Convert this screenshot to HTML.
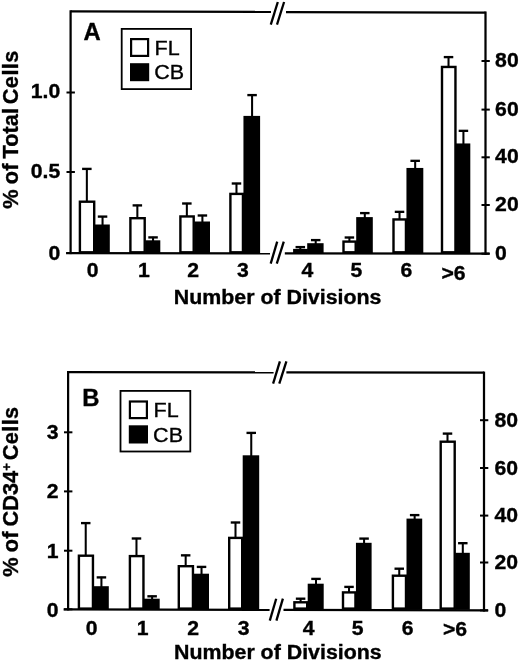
<!DOCTYPE html>
<html><head><meta charset="utf-8"><title>Figure</title>
<style>html,body{margin:0;padding:0;background:#fff}svg{display:block}text{font-family:"Liberation Sans",Arial,Helvetica,sans-serif;fill:#000;stroke:#000;stroke-width:0.35px}</style>
</head><body>
<svg width="520" height="662" viewBox="0 0 520 662">
<rect width="520" height="662" fill="#fff"/>
<line x1="86.85" y1="168.3" x2="86.85" y2="202" stroke="#000" stroke-width="2.05"/>
<line x1="82.1" y1="168.9" x2="91.6" y2="168.9" stroke="#000" stroke-width="2.35"/>
<line x1="102.55" y1="216.0" x2="102.55" y2="225.8" stroke="#000" stroke-width="2.05"/>
<line x1="97.8" y1="216.6" x2="107.3" y2="216.6" stroke="#000" stroke-width="2.35"/>
<rect x="79.9" y="201.7" width="14.3" height="50.6" fill="#fff" stroke="#000" stroke-width="2.4"/>
<rect x="94.7" y="224.5" width="15.1" height="29.0" fill="#000"/>
<line x1="137.35" y1="204.8" x2="137.35" y2="218.5" stroke="#000" stroke-width="2.05"/>
<line x1="132.6" y1="205.4" x2="142.1" y2="205.4" stroke="#000" stroke-width="2.35"/>
<line x1="153.05" y1="236.8" x2="153.05" y2="241.6" stroke="#000" stroke-width="2.05"/>
<line x1="148.3" y1="237.4" x2="157.8" y2="237.4" stroke="#000" stroke-width="2.35"/>
<rect x="130.4" y="218.2" width="14.3" height="34.1" fill="#fff" stroke="#000" stroke-width="2.4"/>
<rect x="145.2" y="240.3" width="15.1" height="13.2" fill="#000"/>
<line x1="186.85" y1="202.9" x2="186.85" y2="216.75" stroke="#000" stroke-width="2.05"/>
<line x1="182.1" y1="203.5" x2="191.6" y2="203.5" stroke="#000" stroke-width="2.35"/>
<line x1="202.4" y1="214.9" x2="202.4" y2="222.8" stroke="#000" stroke-width="2.05"/>
<line x1="197.65" y1="215.5" x2="207.15" y2="215.5" stroke="#000" stroke-width="2.35"/>
<rect x="180.4" y="216.45" width="13.3" height="35.85" fill="#fff" stroke="#000" stroke-width="2.4"/>
<rect x="194.2" y="221.5" width="15.8" height="32.0" fill="#000"/>
<line x1="236.475" y1="182.9" x2="236.475" y2="194.2" stroke="#000" stroke-width="2.05"/>
<line x1="231.725" y1="183.5" x2="241.225" y2="183.5" stroke="#000" stroke-width="2.35"/>
<line x1="252.08" y1="94.5" x2="252.08" y2="117.2" stroke="#000" stroke-width="2.05"/>
<line x1="247.33" y1="95.1" x2="256.83" y2="95.1" stroke="#000" stroke-width="2.35"/>
<rect x="230.4" y="193.9" width="12.55" height="58.4" fill="#fff" stroke="#000" stroke-width="2.4"/>
<rect x="243.45" y="115.9" width="16.65" height="137.6" fill="#000"/>
<line x1="300.3" y1="246.5" x2="300.3" y2="250.4" stroke="#000" stroke-width="2.05"/>
<line x1="295.55" y1="247.1" x2="305.05" y2="247.1" stroke="#000" stroke-width="2.35"/>
<line x1="315.7" y1="239.5" x2="315.7" y2="244.5" stroke="#000" stroke-width="2.05"/>
<line x1="310.95" y1="240.1" x2="320.45" y2="240.1" stroke="#000" stroke-width="2.35"/>
<rect x="294.3" y="250.1" width="12.4" height="2.2" fill="#fff" stroke="#000" stroke-width="2.4"/>
<rect x="307.2" y="243.2" width="16.4" height="10.3" fill="#000"/>
<line x1="349.4" y1="236.9" x2="349.4" y2="241.9" stroke="#000" stroke-width="2.05"/>
<line x1="344.65" y1="237.5" x2="354.15" y2="237.5" stroke="#000" stroke-width="2.35"/>
<line x1="364.8" y1="212.5" x2="364.8" y2="218.4" stroke="#000" stroke-width="2.05"/>
<line x1="360.05" y1="213.1" x2="369.55" y2="213.1" stroke="#000" stroke-width="2.35"/>
<rect x="343.5" y="241.6" width="12.2" height="10.7" fill="#fff" stroke="#000" stroke-width="2.4"/>
<rect x="356.2" y="217.1" width="16.6" height="36.4" fill="#000"/>
<line x1="399.525" y1="211.25" x2="399.525" y2="219.75" stroke="#000" stroke-width="2.05"/>
<line x1="394.775" y1="211.85" x2="404.275" y2="211.85" stroke="#000" stroke-width="2.35"/>
<line x1="415.175" y1="160.25" x2="415.175" y2="169.25" stroke="#000" stroke-width="2.05"/>
<line x1="410.425" y1="160.85" x2="419.925" y2="160.85" stroke="#000" stroke-width="2.35"/>
<rect x="393.5" y="219.45" width="12.45" height="32.85" fill="#fff" stroke="#000" stroke-width="2.4"/>
<rect x="406.45" y="167.95" width="16.85" height="85.55" fill="#000"/>
<line x1="448.525" y1="56.5" x2="448.525" y2="67.25" stroke="#000" stroke-width="2.05"/>
<line x1="443.775" y1="57.1" x2="453.275" y2="57.1" stroke="#000" stroke-width="2.35"/>
<line x1="463.425" y1="130.25" x2="463.425" y2="144.75" stroke="#000" stroke-width="2.05"/>
<line x1="458.675" y1="130.85" x2="468.175" y2="130.85" stroke="#000" stroke-width="2.35"/>
<rect x="442.0" y="66.95" width="13.45" height="185.35" fill="#fff" stroke="#000" stroke-width="2.4"/>
<rect x="455.95" y="143.45" width="14.35" height="110.05" fill="#000"/>
<line x1="70.6" y1="10.275" x2="70.6" y2="254.125" stroke="#000" stroke-width="2.25"/>
<line x1="485.5" y1="11.475" x2="485.5" y2="254.825" stroke="#000" stroke-width="2.25"/>
<line x1="70.6" y1="11.4" x2="271" y2="11.98" stroke="#000" stroke-width="2.25"/>
<line x1="286" y1="12.02" x2="485.5" y2="12.6" stroke="#000" stroke-width="2.25"/>
<line x1="66.1" y1="253.0" x2="270" y2="253.315" stroke="#000" stroke-width="2.25"/>
<line x1="284.8" y1="253.35" x2="489.5" y2="253.7" stroke="#000" stroke-width="2.25"/>
<line x1="270.8" y1="24.7" x2="277.8" y2="2.0" stroke="#000" stroke-width="2.3"/>
<line x1="277.0" y1="24.7" x2="284.1" y2="2.0" stroke="#000" stroke-width="2.3"/>
<line x1="270.7" y1="263.6" x2="277.2" y2="241.7" stroke="#000" stroke-width="2.3"/>
<line x1="276.8" y1="263.6" x2="283.8" y2="241.7" stroke="#000" stroke-width="2.3"/>
<line x1="66.5" y1="92.5" x2="74.9" y2="92.5" stroke="#000" stroke-width="2.0"/>
<text transform="translate(60.2,98.4) scale(1.06,1)" font-size="20" font-weight="bold" text-anchor="end">1.0</text>
<line x1="66.5" y1="172" x2="74.9" y2="172" stroke="#000" stroke-width="2.0"/>
<text transform="translate(60.2,177.9) scale(1.06,1)" font-size="20" font-weight="bold" text-anchor="end">0.5</text>
<line x1="66.5" y1="253.0" x2="74.9" y2="253.0" stroke="#000" stroke-width="2.0"/>
<text transform="translate(60.2,260.0) scale(1.06,1)" font-size="20" font-weight="bold" text-anchor="end">0</text>
<line x1="481.5" y1="61" x2="489.8" y2="61" stroke="#000" stroke-width="2.0"/>
<text transform="translate(495.1,67.1) scale(1.06,1)" font-size="20" font-weight="bold" text-anchor="start">80</text>
<line x1="481.5" y1="109.6" x2="489.8" y2="109.6" stroke="#000" stroke-width="2.0"/>
<text transform="translate(495.1,115.7) scale(1.06,1)" font-size="20" font-weight="bold" text-anchor="start">60</text>
<line x1="481.5" y1="157.3" x2="489.8" y2="157.3" stroke="#000" stroke-width="2.0"/>
<text transform="translate(495.1,163.4) scale(1.06,1)" font-size="20" font-weight="bold" text-anchor="start">40</text>
<line x1="481.5" y1="205" x2="489.8" y2="205" stroke="#000" stroke-width="2.0"/>
<text transform="translate(495.1,211.1) scale(1.06,1)" font-size="20" font-weight="bold" text-anchor="start">20</text>
<line x1="481.5" y1="253.7" x2="489.8" y2="253.7" stroke="#000" stroke-width="2.0"/>
<text transform="translate(495.1,259.8) scale(1.06,1)" font-size="20" font-weight="bold" text-anchor="start">0</text>
<text transform="translate(92.6,276.8) scale(1.06,1)" font-size="20" font-weight="bold" text-anchor="middle">0</text>
<text transform="translate(143.8,276.8) scale(1.06,1)" font-size="20" font-weight="bold" text-anchor="middle">1</text>
<text transform="translate(193.1,276.8) scale(1.06,1)" font-size="20" font-weight="bold" text-anchor="middle">2</text>
<text transform="translate(243.0,276.8) scale(1.06,1)" font-size="20" font-weight="bold" text-anchor="middle">3</text>
<text transform="translate(307.3,276.8) scale(1.06,1)" font-size="20" font-weight="bold" text-anchor="middle">4</text>
<text transform="translate(356.3,276.8) scale(1.06,1)" font-size="20" font-weight="bold" text-anchor="middle">5</text>
<text transform="translate(406.5,276.8) scale(1.06,1)" font-size="20" font-weight="bold" text-anchor="middle">6</text>
<text transform="translate(453.5,279.8) scale(1.06,1)" font-size="20" font-weight="bold" text-anchor="middle">&gt;6</text>
<text transform="translate(173.8,303.75) scale(1.068,1)" font-size="20" font-weight="bold" text-anchor="start">Number of Divisions</text>
<text transform="translate(18.2,208.7) rotate(-90) scale(1.012,1)" font-size="21.5" font-weight="bold" text-anchor="start" word-spacing="-0.8">% of Total<tspan dx="-1.9" letter-spacing="0.45"> Cells</tspan></text>
<text transform="translate(83.5,40) scale(0.97,1)" font-size="24.6" font-weight="bold" text-anchor="start">A</text>
<rect x="121.7" y="28.9" width="69.4" height="60.2" fill="#fff" stroke="#000" stroke-width="1.8"/>
<rect x="131.1" y="39.1" width="17" height="16.8" fill="#fff" stroke="#000" stroke-width="2.2"/>
<rect x="130" y="63.2" width="19.2" height="18.0" fill="#000"/>
<text transform="translate(154.5,55) scale(1.05,1)" font-size="20.5" font-weight="normal" text-anchor="start">FL</text>
<text transform="translate(154.2,79.3) scale(1.05,1)" font-size="20.5" font-weight="normal" text-anchor="start">CB</text>
<line x1="85.725" y1="522.5" x2="85.725" y2="556" stroke="#000" stroke-width="2.05"/>
<line x1="80.975" y1="523.1" x2="90.475" y2="523.1" stroke="#000" stroke-width="2.35"/>
<line x1="101.425" y1="576.8" x2="101.425" y2="587.5" stroke="#000" stroke-width="2.05"/>
<line x1="96.675" y1="577.4" x2="106.175" y2="577.4" stroke="#000" stroke-width="2.35"/>
<rect x="78.9" y="555.7" width="14.05" height="52.9" fill="#fff" stroke="#000" stroke-width="2.4"/>
<rect x="93.45" y="586.2" width="15.35" height="23.6" fill="#000"/>
<line x1="136.475" y1="537.9" x2="136.475" y2="556.4" stroke="#000" stroke-width="2.05"/>
<line x1="131.725" y1="538.5" x2="141.225" y2="538.5" stroke="#000" stroke-width="2.35"/>
<line x1="152.125" y1="595.7" x2="152.125" y2="600" stroke="#000" stroke-width="2.05"/>
<line x1="147.375" y1="596.3" x2="156.875" y2="596.3" stroke="#000" stroke-width="2.35"/>
<rect x="129.9" y="556.1" width="13.55" height="52.5" fill="#fff" stroke="#000" stroke-width="2.4"/>
<rect x="143.95" y="598.7" width="15.75" height="11.1" fill="#000"/>
<line x1="185.675" y1="554.75" x2="185.675" y2="566.5" stroke="#000" stroke-width="2.05"/>
<line x1="180.925" y1="555.35" x2="190.425" y2="555.35" stroke="#000" stroke-width="2.35"/>
<line x1="201.525" y1="566.3" x2="201.525" y2="575" stroke="#000" stroke-width="2.05"/>
<line x1="196.775" y1="566.9" x2="206.275" y2="566.9" stroke="#000" stroke-width="2.35"/>
<rect x="178.8" y="566.2" width="14.15" height="42.4" fill="#fff" stroke="#000" stroke-width="2.4"/>
<rect x="193.45" y="573.7" width="15.55" height="36.1" fill="#000"/>
<line x1="235.5" y1="521.9" x2="235.5" y2="538.2" stroke="#000" stroke-width="2.05"/>
<line x1="230.75" y1="522.5" x2="240.25" y2="522.5" stroke="#000" stroke-width="2.35"/>
<line x1="251.25" y1="432.3" x2="251.25" y2="456.6" stroke="#000" stroke-width="2.05"/>
<line x1="246.5" y1="432.9" x2="256.0" y2="432.9" stroke="#000" stroke-width="2.35"/>
<rect x="229.2" y="537.9" width="13" height="70.7" fill="#fff" stroke="#000" stroke-width="2.4"/>
<rect x="242.7" y="455.3" width="16.5" height="154.5" fill="#000"/>
<line x1="300.6" y1="598.1" x2="300.6" y2="602.6" stroke="#000" stroke-width="2.05"/>
<line x1="295.85" y1="598.7" x2="305.35" y2="598.7" stroke="#000" stroke-width="2.35"/>
<line x1="316.0" y1="578.3" x2="316.0" y2="585" stroke="#000" stroke-width="2.05"/>
<line x1="311.25" y1="578.9" x2="320.75" y2="578.9" stroke="#000" stroke-width="2.35"/>
<rect x="294.4" y="602.3" width="12.8" height="6.3" fill="#fff" stroke="#000" stroke-width="2.4"/>
<rect x="307.7" y="583.7" width="16.0" height="26.1" fill="#000"/>
<line x1="349.025" y1="586.3" x2="349.025" y2="592.7" stroke="#000" stroke-width="2.05"/>
<line x1="344.275" y1="586.9" x2="353.775" y2="586.9" stroke="#000" stroke-width="2.35"/>
<line x1="364.075" y1="538.0" x2="364.075" y2="544.1" stroke="#000" stroke-width="2.05"/>
<line x1="359.325" y1="538.6" x2="368.825" y2="538.6" stroke="#000" stroke-width="2.35"/>
<rect x="343.0" y="592.4" width="12.45" height="16.2" fill="#fff" stroke="#000" stroke-width="2.4"/>
<rect x="355.95" y="542.8" width="15.65" height="67" fill="#000"/>
<line x1="399.25" y1="568.1" x2="399.25" y2="576.0" stroke="#000" stroke-width="2.05"/>
<line x1="394.5" y1="568.7" x2="404.0" y2="568.7" stroke="#000" stroke-width="2.35"/>
<line x1="414.65" y1="514.5" x2="414.65" y2="519.9" stroke="#000" stroke-width="2.05"/>
<line x1="409.9" y1="515.1" x2="419.4" y2="515.1" stroke="#000" stroke-width="2.35"/>
<rect x="392.9" y="575.7" width="13.1" height="32.9" fill="#fff" stroke="#000" stroke-width="2.4"/>
<rect x="406.5" y="518.6" width="15.7" height="91.2" fill="#000"/>
<line x1="447.5" y1="433.0" x2="447.5" y2="442" stroke="#000" stroke-width="2.05"/>
<line x1="442.75" y1="433.6" x2="452.25" y2="433.6" stroke="#000" stroke-width="2.35"/>
<line x1="462.8" y1="542.6" x2="462.8" y2="554.1" stroke="#000" stroke-width="2.05"/>
<line x1="458.05" y1="543.2" x2="467.55" y2="543.2" stroke="#000" stroke-width="2.35"/>
<rect x="440.7" y="441.7" width="14" height="166.9" fill="#fff" stroke="#000" stroke-width="2.4"/>
<rect x="455.2" y="552.8" width="14.6" height="57" fill="#000"/>
<line x1="68.1" y1="370.975" x2="68.1" y2="610.425" stroke="#000" stroke-width="2.25"/>
<line x1="484.0" y1="371.575" x2="484.0" y2="611.525" stroke="#000" stroke-width="2.25"/>
<line x1="68.1" y1="372.1" x2="273.6" y2="372.4" stroke="#000" stroke-width="2.25"/>
<line x1="286.4" y1="372.41" x2="484.0" y2="372.7" stroke="#000" stroke-width="2.25"/>
<line x1="63.6" y1="609.3" x2="269.6" y2="609.795" stroke="#000" stroke-width="2.25"/>
<line x1="283.5" y1="609.85" x2="488.0" y2="610.4" stroke="#000" stroke-width="2.25"/>
<line x1="273.1" y1="383.6" x2="279.9" y2="361.4" stroke="#000" stroke-width="2.3"/>
<line x1="279.3" y1="383.6" x2="286.4" y2="361.4" stroke="#000" stroke-width="2.3"/>
<line x1="269.8" y1="620.6" x2="276.2" y2="598.7" stroke="#000" stroke-width="2.3"/>
<line x1="276.4" y1="620.6" x2="282.9" y2="598.7" stroke="#000" stroke-width="2.3"/>
<line x1="64" y1="432.3" x2="72.4" y2="432.3" stroke="#000" stroke-width="2.0"/>
<text transform="translate(58.5,439.1) scale(1.06,1)" font-size="20" font-weight="bold" text-anchor="end">3</text>
<line x1="64" y1="491.4" x2="72.4" y2="491.4" stroke="#000" stroke-width="2.0"/>
<text transform="translate(58.5,498.2) scale(1.06,1)" font-size="20" font-weight="bold" text-anchor="end">2</text>
<line x1="64" y1="550.7" x2="72.4" y2="550.7" stroke="#000" stroke-width="2.0"/>
<text transform="translate(58.5,557.5) scale(1.06,1)" font-size="20" font-weight="bold" text-anchor="end">1</text>
<line x1="64" y1="609.3" x2="72.4" y2="609.3" stroke="#000" stroke-width="2.0"/>
<text transform="translate(58.5,617.2) scale(1.06,1)" font-size="20" font-weight="bold" text-anchor="end">0</text>
<line x1="480.0" y1="420.2" x2="488.3" y2="420.2" stroke="#000" stroke-width="2.0"/>
<text transform="translate(494.5,426.7) scale(1.06,1)" font-size="20" font-weight="bold" text-anchor="start">80</text>
<line x1="480.0" y1="468" x2="488.3" y2="468" stroke="#000" stroke-width="2.0"/>
<text transform="translate(494.5,474.5) scale(1.06,1)" font-size="20" font-weight="bold" text-anchor="start">60</text>
<line x1="480.0" y1="515.6" x2="488.3" y2="515.6" stroke="#000" stroke-width="2.0"/>
<text transform="translate(494.5,522.1) scale(1.06,1)" font-size="20" font-weight="bold" text-anchor="start">40</text>
<line x1="480.0" y1="562.5" x2="488.3" y2="562.5" stroke="#000" stroke-width="2.0"/>
<text transform="translate(494.5,569.0) scale(1.06,1)" font-size="20" font-weight="bold" text-anchor="start">20</text>
<line x1="480.0" y1="610.4" x2="488.3" y2="610.4" stroke="#000" stroke-width="2.0"/>
<text transform="translate(494.5,617.3) scale(1.06,1)" font-size="20" font-weight="bold" text-anchor="start">0</text>
<text transform="translate(91.6,634.7) scale(1.06,1)" font-size="20" font-weight="bold" text-anchor="middle">0</text>
<text transform="translate(142.7,634.7) scale(1.06,1)" font-size="20" font-weight="bold" text-anchor="middle">1</text>
<text transform="translate(193.2,634.7) scale(1.06,1)" font-size="20" font-weight="bold" text-anchor="middle">2</text>
<text transform="translate(243.6,634.7) scale(1.06,1)" font-size="20" font-weight="bold" text-anchor="middle">3</text>
<text transform="translate(308.7,634.7) scale(1.06,1)" font-size="20" font-weight="bold" text-anchor="middle">4</text>
<text transform="translate(357.6,634.7) scale(1.06,1)" font-size="20" font-weight="bold" text-anchor="middle">5</text>
<text transform="translate(407.7,634.7) scale(1.06,1)" font-size="20" font-weight="bold" text-anchor="middle">6</text>
<text transform="translate(455,635.7) scale(1.06,1)" font-size="20" font-weight="bold" text-anchor="middle">&gt;6</text>
<text transform="translate(174,659) scale(1.068,1)" font-size="20" font-weight="bold" text-anchor="start">Number of Divisions</text>
<text transform="translate(18.0,576.7) rotate(-90) scale(1.012,1)" font-size="21.5" font-weight="bold" text-anchor="start" word-spacing="-0.8">% of CD34<tspan font-size="13" dy="-7">+</tspan><tspan dy="7" dx="-2.6" letter-spacing="0.35"> Cells</tspan></text>
<text transform="translate(82.2,405.7) scale(0.97,1)" font-size="24.6" font-weight="bold" text-anchor="start">B</text>
<rect x="120.5" y="390.9" width="69.8" height="60.6" fill="#fff" stroke="#000" stroke-width="1.8"/>
<rect x="129.9" y="401.5" width="17" height="16.6" fill="#fff" stroke="#000" stroke-width="2.2"/>
<rect x="128.8" y="425.3" width="19.2" height="18.2" fill="#000"/>
<text transform="translate(153.6,417) scale(1.05,1)" font-size="20.5" font-weight="normal" text-anchor="start">FL</text>
<text transform="translate(153.1,441.5) scale(1.05,1)" font-size="20.5" font-weight="normal" text-anchor="start">CB</text>
</svg>
</body></html>
